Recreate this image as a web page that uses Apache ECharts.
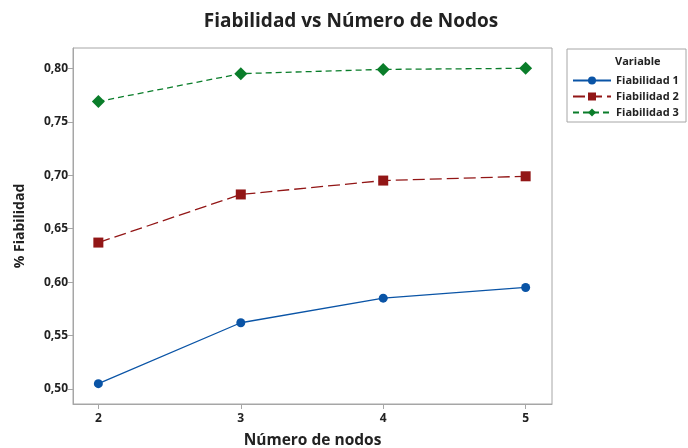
<!DOCTYPE html>
<html><head><meta charset="utf-8">
<script src="https://cdn.jsdelivr.net/npm/echarts@6/dist/echarts.min.js"></script>
<style>html,body{margin:0;padding:0;background:#fff}#c{width:688px;height:448px}</style>
</head><body><div id="c"></div>
<script>
const nodos = [2, 3, 4, 5];
const xTicks = [2, 3, 4, 5];
const yTicks = [0.50, 0.55, 0.60, 0.65, 0.70, 0.75, 0.80];
const fiab1 = [0.505, 0.562, 0.585, 0.595];
const fiab2 = [0.637, 0.682, 0.695, 0.699];
const fiab3 = [0.769, 0.795, 0.799, 0.800];
const seriesNames = ['Fiabilidad 1', 'Fiabilidad 2', 'Fiabilidad 3'];

const FONT = '"Open Sans", "Noto Sans", sans-serif';
const TXT = '#222';
const chart = echarts.init(document.getElementById('c'), null, {renderer: 'canvas'});
const mk = (vals) => nodos.map((x, i) => [x, vals[i]]);
chart.setOption({
  animation: false,
  backgroundColor: '#fff',
  title: {
    text: 'Fiabilidad vs Número de Nodos', left: 346, top: 7, textAlign: 'center',
    textStyle: {fontFamily: FONT, fontSize: 19, fontWeight: 'bold', color: TXT}
  },
  grid: {left: 73, top: 48, width: 479, height: 356, show: true, borderColor: '#a6a6a6', borderWidth: 1,
    backgroundColor: '#fff', containLabel: false, outerBoundsMode: 'none'},
  xAxis: {
    type: 'value', min: 1.822, max: 5.185,
    name: 'Número de nodos', nameLocation: 'middle', nameGap: 29,
    nameTextStyle: {fontFamily: FONT, fontSize: 15.5, fontWeight: 'bold', color: TXT},
    axisLine: {show: true, onZero: false, lineStyle: {color: '#a6a6a6'}},
    axisTick: {show: true, length: 5, customValues: xTicks, lineStyle: {color: '#a6a6a6'}},
    axisLabel: {customValues: xTicks, margin: 9, fontFamily: FONT, fontSize: 12, fontWeight: 'bold', color: TXT},
    splitLine: {show: false}
  },
  yAxis: {
    type: 'value', min: 0.486, max: 0.819,
    name: '% Fiabilidad', nameLocation: 'middle', nameGap: 46,
    nameTextStyle: {fontFamily: FONT, fontSize: 14, fontWeight: 'bold', color: TXT},
    axisLine: {show: true, onZero: false, lineStyle: {color: '#a6a6a6'}},
    axisTick: {show: true, length: 5, customValues: yTicks, lineStyle: {color: '#a6a6a6'}},
    axisLabel: {customValues: yTicks, margin: 5, fontFamily: FONT, fontSize: 12, fontWeight: 'bold', color: TXT,
      formatter: v => v.toFixed(2).replace('.', ',')},
    splitLine: {show: false}
  },
  legend: {
    orient: 'vertical', left: 567, top: 70, itemWidth: 38, itemHeight: 10, itemGap: 5,
    data: seriesNames,
    textStyle: {fontFamily: FONT, fontSize: 11, fontWeight: 'bold', color: TXT, padding: [0,0,0,0]}
  },
  graphic: [
    {type: 'rect', shape: {x: 567, y: 49, width: 119, height: 73}, style: {fill: 'none', stroke: '#a6a6a6', lineWidth: 1}, z: -1},
    {type: 'text', left: 615, top: 56, style: {text: 'Variable', fontFamily: FONT, fontSize: 11, fontWeight: 'bold', fill: TXT}}
  ],
  series: [
    {name: seriesNames[0], type: 'line', data: mk(fiab1), symbol: 'circle', symbolSize: 9,
     itemStyle: {color: '#0a54a6'}, lineStyle: {color: '#0a54a6', width: 1.3, type: 'solid'}},
    {name: seriesNames[1], type: 'line', data: mk(fiab2), symbol: 'rect', symbolSize: 10,
     itemStyle: {color: '#921616'}, lineStyle: {color: '#921616', width: 1.3, type: [12, 5]}},
    {name: seriesNames[2], type: 'line', data: mk(fiab3), symbol: 'diamond', symbolSize: 13,
     itemStyle: {color: '#0a7d2a'}, lineStyle: {color: '#0a7d2a', width: 1.3, type: [6, 4]}}
  ]
});
</script></body></html>
